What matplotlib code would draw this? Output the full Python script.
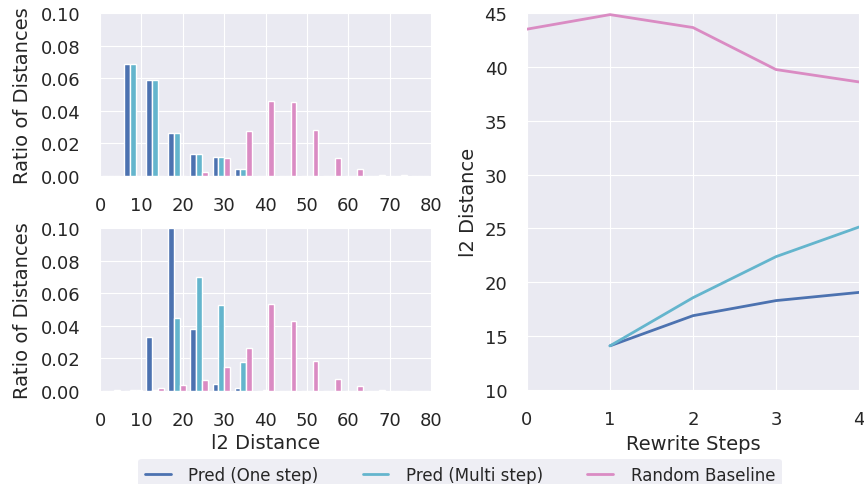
import numpy as np
import matplotlib
matplotlib.use("Agg")
import matplotlib.pyplot as plt

# --- data ---
bin_edges = np.linspace(0, 80, 16)
bin_centers = 0.5 * (bin_edges[:-1] + bin_edges[1:])

# top histogram (one rewrite step)
top_one = [0.0, 0.0687, 0.0589, 0.0264, 0.0135, 0.0115, 0.0041, 0.0, 0.0, 0.0, 0.0, 0.0, 0.0, 0.0, 0.0]
top_multi = [0.0, 0.0687, 0.0589, 0.0264, 0.0135, 0.0115, 0.0041, 0.0, 0.0, 0.0, 0.0, 0.0, 0.0, 0.0, 0.0]
top_rand = [0.0, 0.0, 0.0, 0.0002, 0.0025, 0.0112, 0.0276, 0.0462, 0.0452, 0.0280, 0.0112, 0.0041, 0.0008, 0.0004, 0.0003]

# bottom histogram (more rewrite steps)
bot_one = [0.0, 0.0, 0.0331, 0.1000, 0.0380, 0.0041, 0.0018, 0.0, 0.0, 0.0, 0.0, 0.0, 0.0, 0.0, 0.0]
bot_multi = [0.0, 0.0004, 0.0006, 0.0446, 0.0697, 0.0526, 0.0178, 0.0008, 0.0, 0.0, 0.0, 0.0, 0.0, 0.0, 0.0]
bot_rand = [0.0006, 0.0006, 0.0018, 0.0039, 0.0070, 0.0149, 0.0262, 0.0536, 0.0427, 0.0186, 0.0074, 0.0029, 0.0006, 0.0, 0.0]

# l2 distance vs rewrite steps
steps_pred = [1, 2, 3, 4]
pred_one = [14.1, 16.9, 18.3, 19.06]
pred_multi = [14.1, 18.57, 22.38, 25.13]
steps_rand = [0, 1, 2, 3, 4]
rand_base = [43.5, 44.85, 43.65, 39.75, 38.6]

labels = ["Pred (One step)", "Pred (Multi step)", "Random Baseline"]
colors = ["#4C72B0", "#64B5CD", "#DA8BC3"]

plt.style.use("seaborn-v0_8-darkgrid")
plt.rcParams["font.family"] = "DejaVu Sans"
plt.rcParams["xtick.labelsize"] = 13
plt.rcParams["ytick.labelsize"] = 13
plt.rcParams["axes.labelsize"] = 14
plt.rcParams["xtick.major.pad"] = 14.5
plt.rcParams["ytick.major.pad"] = 14

fig = plt.figure(figsize=(8.64, 4.85), dpi=100)
W, H = 864.0, 485.0

def px_axes(x0, y0, x1, y1):
    return fig.add_axes([x0 / W, 1 - y1 / H, (x1 - x0) / W, (y1 - y0) / H])

ax_top = px_axes(100, 14, 431, 177)
ax_bot = px_axes(100, 229, 431, 392)
ax_line = px_axes(527, 14, 859, 391)

for ax, series in [(ax_top, (top_one, top_multi, top_rand)),
                   (ax_bot, (bot_one, bot_multi, bot_rand))]:
    ax.hist([bin_centers] * 3, bins=bin_edges, weights=list(series),
            color=colors, edgecolor="white", linewidth=1.0)
    ax.set_xlim(0, 80)
    ax.set_ylim(0, 0.1)
    ax.set_xticks(np.arange(0, 81, 10))
    ax.set_yticks(np.arange(0, 0.101, 0.02))
    ax.yaxis.set_major_formatter(matplotlib.ticker.FormatStrFormatter("%.2f"))
    ax.set_ylabel("Ratio of Distances", labelpad=6)

ax_bot.set_xlabel("l2 Distance", labelpad=3)

ax_line.plot(steps_pred, pred_one, color=colors[0], lw=2, label=labels[0])
ax_line.plot(steps_pred, pred_multi, color=colors[1], lw=2, label=labels[1])
ax_line.plot(steps_rand, rand_base, color=colors[2], lw=2, label=labels[2])
ax_line.set_xlim(0, 4)
ax_line.set_ylim(10, 45)
ax_line.set_xticks(range(5))
ax_line.set_yticks(range(10, 46, 5))
ax_line.set_xlabel("Rewrite Steps", labelpad=4)
ax_line.set_ylabel("l2 Distance", labelpad=5)

handles, lbls = ax_line.get_legend_handles_labels()
leg = fig.legend(handles, lbls, loc="lower center", ncol=3, fontsize=12,
                 bbox_to_anchor=(460 / W, -0.03), frameon=True,
                 handlelength=1.55, columnspacing=2.65, handletextpad=1.05,
                 borderpad=0.4)
leg.get_frame().set_facecolor("#EAEAF2")
leg.get_frame().set_edgecolor("none")

fig.savefig("out.png", dpi=100)
